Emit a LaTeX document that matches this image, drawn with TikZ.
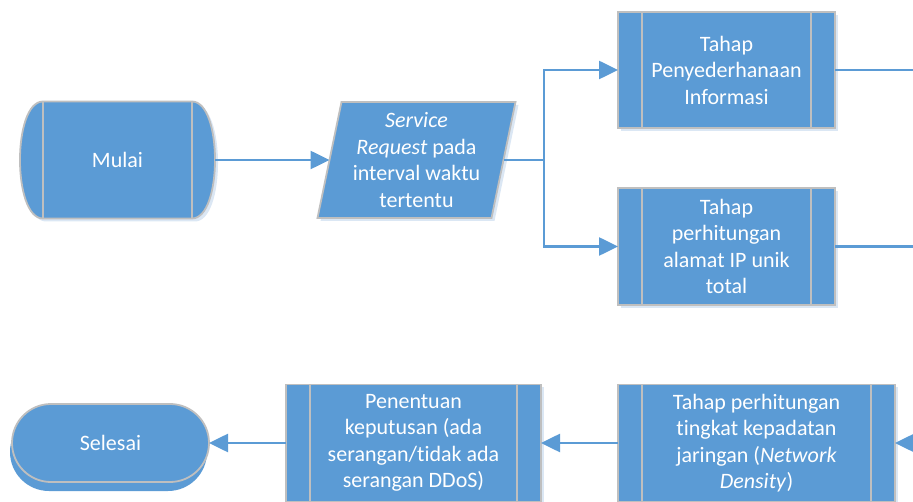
\documentclass[tikz,border=0pt]{standalone}
\usepackage{fontspec}
\setmainfont{Carlito}[Ligatures=NoCommon]
\usetikzlibrary{arrows.meta,shapes.misc,shadows}
\definecolor{flowblue}{HTML}{5B9BD5}
\definecolor{edgegray}{HTML}{BFBFBF}
\definecolor{haze}{HTML}{CCDDF0}
\pgfdeclarelayer{background}
\pgfsetlayers{background,main}

\begin{document}
\begin{tikzpicture}[x=1pt,y=-1pt,
  every node/.style={font=\fontsize{22}{26.5}\selectfont, text=white, align=center, inner sep=0pt, outer sep=0pt},
  outline/.style={draw=edgegray, line width=1.8pt, fill=flowblue},
  boxshadow/.style={drop shadow={shadow xshift=3pt, shadow yshift=-3pt, fill=haze, opacity=0.7}},
  procbox/.style={outline, boxshadow, minimum height=117pt,
    path picture={\draw[edgegray, line width=1.8pt]
      ([xshift=24pt]path picture bounding box.north west) -- ([xshift=24pt]path picture bounding box.south west)
      ([xshift=-24pt]path picture bounding box.north east) -- ([xshift=-24pt]path picture bounding box.south east);}},
  flow/.style={draw=flowblue, line width=2.6pt},
  arrowflow/.style={flow, -{Triangle[length=19pt,width=18pt]}}
]
\useasboundingbox (0,0) rectangle (913,502);

% start: storage-like shape with bulging sides
\node[minimum width=195pt, minimum height=117pt] (mulai) at (117.5,160) {Mulai};
\begin{pgfonlayer}{background}
  \path[outline, boxshadow]
    ([xshift=23pt]mulai.north west) -- ([xshift=-23pt]mulai.north east)
    .. controls +(30.7pt,0) and +(30.7pt,0) .. ([xshift=-23pt]mulai.south east)
    -- ([xshift=23pt]mulai.south west)
    .. controls +(-30.7pt,0) and +(-30.7pt,0) .. ([xshift=23pt]mulai.north west) -- cycle;
  \draw[edgegray, line width=1.8pt]
    ([xshift=23pt]mulai.north west) -- ([xshift=23pt]mulai.south west)
    ([xshift=-23pt]mulai.north east) -- ([xshift=-23pt]mulai.south east);
\end{pgfonlayer}

% input: parallelogram
\node[minimum width=174pt, minimum height=116pt] (svc) at (416.5,160)
  {\textit{Service}\\\textit{Request} pada\\interval waktu\\tertentu};
\begin{pgfonlayer}{background}
  \path[outline, boxshadow]
    ([xshift=12pt]svc.north west) -- ([xshift=12pt]svc.north east)
    -- ([xshift=-12pt]svc.south east) -- ([xshift=-12pt]svc.south west) -- cycle;
\end{pgfonlayer}

% predefined process steps
\node[procbox, minimum width=217pt, minimum height=116pt] (b1) at (726.5,70)
  {Tahap\\Penyederhanaan\\Informasi};
\node[procbox, minimum width=217pt] (b2) at (726.5,246.5)
  {Tahap\\perhitungan\\alamat IP unik\\total};
\node[procbox, minimum width=277pt] (b3) at (756.5,443)
  {Tahap perhitungan\\tingkat kepadatan\\jaringan (\textit{Network}\\\textit{Density})};
\node[procbox, minimum width=255pt] (b4) at (413.5,443)
  {Penentuan\\keputusan (ada\\serangan/tidak ada\\serangan DDoS)};

% end: terminator
\node[rounded rectangle, outline, minimum width=197pt, minimum height=78pt,
  drop shadow={shadow xshift=-2pt, shadow yshift=-9pt, fill=flowblue, opacity=1}]
  (selesai) at (110.5,443) {Selesai};

% connectors
\coordinate (split) at (544,160);
\coordinate (r1) at (913,70);
\coordinate (r2) at (913,246.5);
\coordinate (r3) at (913,443);

\draw[arrowflow] (mulai.east) -- (svc.west);
\draw[flow] (svc.east) -- (split);
\draw[arrowflow] (split) |- (b1.west);
\draw[arrowflow] (split) |- (b2.west);
\draw[flow] (b1.east) -- (r1);
\draw[flow] (b2.east) -- (r2);
\draw[arrowflow] (r3) -- (b3.east);
\draw[arrowflow] (b3.west) -- (b4.east);
\draw[arrowflow] (b4.west) -- (selesai.east);
\end{tikzpicture}
\end{document}
